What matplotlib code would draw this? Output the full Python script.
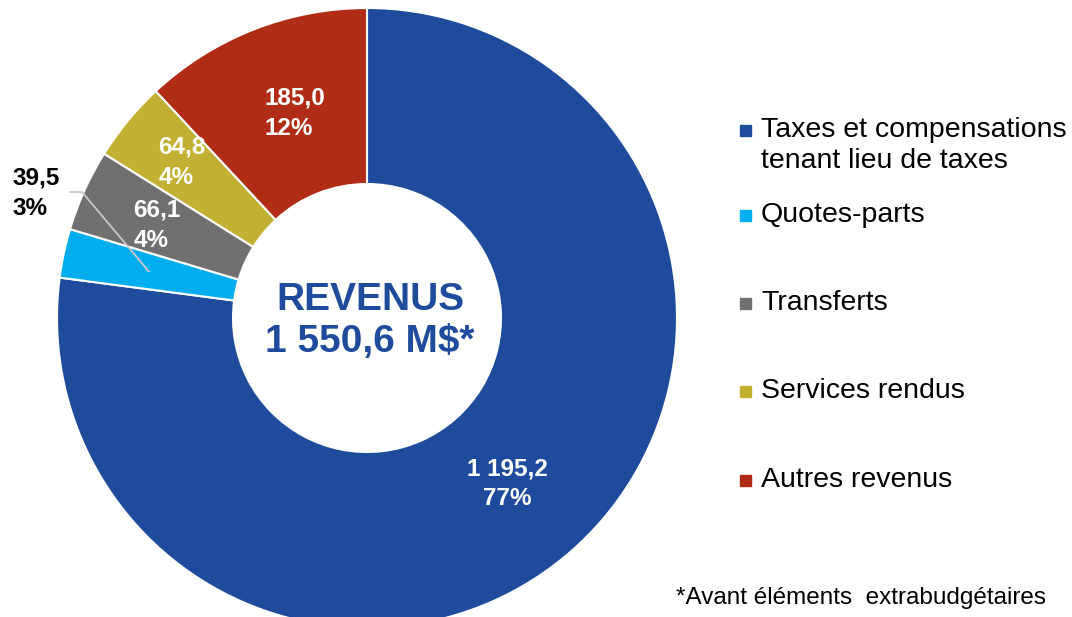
import numpy as np
import matplotlib
matplotlib.use("Agg")
import matplotlib.pyplot as plt
from matplotlib.patches import Rectangle

# data (M$)
categories = ["Taxes et compensations\ntenant lieu de taxes", "Quotes-parts",
              "Transferts", "Services rendus", "Autres revenus"]
values = [1195.2, 39.5, 66.1, 64.8, 185.0]
value_labels = ["1 195,2", "39,5", "66,1", "64,8", "185,0"]
pct_labels = ["77%", "3%", "4%", "4%", "12%"]
colors = ["#1E4B9B", "#00AEEF", "#707070", "#C1B032", "#B02C15"]
total_label = "REVENUS\n1 550,6 M$*"
footnote = "*Avant éléments  extrabudgétaires"

plt.rcParams['font.family'] = ['Liberation Sans', 'DejaVu Sans']

W, H = 1072, 617
fig = plt.figure(figsize=(W / 100, H / 100), dpi=100)
ax = fig.add_axes([0, 0, 1, 1])

cx, cy = 367, H - 318
R, r_in = 310, 134
wedges, _ = ax.pie(values, colors=colors, startangle=90, counterclock=False,
                   center=(cx, cy), radius=R,
                   wedgeprops=dict(width=R - r_in, edgecolor="white", linewidth=1.5))
ax.set_xlim(0, W)
ax.set_ylim(0, H)
ax.set_aspect("equal")
ax.axis("off")

lab_fs = 17.5
# label placement: (radius fraction, angle offset from wedge middle)
label_place = [(0.70, -1.0), None, (0.74, 0.5), (0.78, -0.5), (0.70, -2.0)]
for i, w in enumerate(wedges):
    mid = np.deg2rad((w.theta1 + w.theta2) / 2)
    if label_place[i] is None:
        # small slice: outside label with leader line
        px = cx + 0.72 * R * np.cos(mid)
        py = cy + 0.72 * R * np.sin(mid)
        ax.plot([px, 82, 70], [py, H - 192, H - 192], color="#C8C8C8", lw=1.3)
        ax.text(12, H - 193, value_labels[i] + "\n" + pct_labels[i], ha="left", va="center",
                fontsize=lab_fs, fontweight="bold", color="black", linespacing=1.4)
        continue
    rf, doff = label_place[i]
    a = mid + np.deg2rad(doff)
    tx = cx + rf * R * np.cos(a)
    ty = cy + rf * R * np.sin(a)
    ma = "center" if i == 0 else "left"
    ax.text(tx, ty, value_labels[i] + "\n" + pct_labels[i], ha="center", va="center",
            multialignment=ma, fontsize=lab_fs, fontweight="bold", color="white",
            linespacing=1.4)

ax.text(cx + 3, cy - 3, total_label, ha="center", va="center", fontsize=28,
        fontweight="bold", color="#1E4B9B", linespacing=1.25)

# legend drawn by hand, marker beside first line of each label
legend_y = [130, 215, 303, 391, 480]
for lab, col, y in zip(categories, colors, legend_y):
    ax.add_patch(Rectangle((740, H - y - 5.5), 11, 11, color=col))
    for j, line in enumerate(lab.split("\n")):
        ax.text(761, H - y - 31 * j, line, ha="left", va="center",
                fontsize=20.5, color="black")

ax.text(676, H - 598, footnote, ha="left", va="center", fontsize=17.5, color="black")

fig.savefig("out.png", dpi=100)
